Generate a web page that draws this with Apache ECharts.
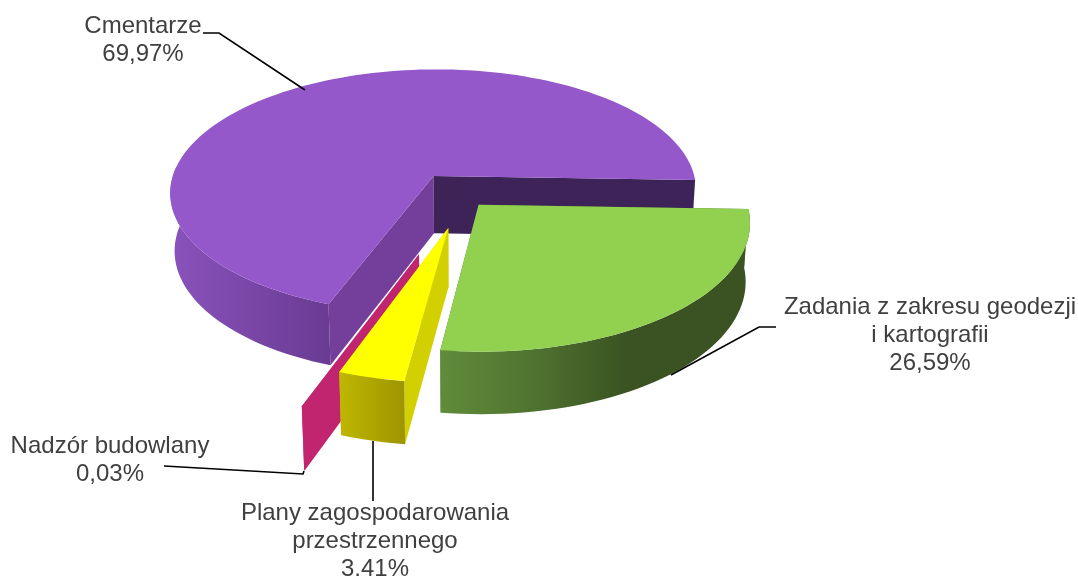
<!DOCTYPE html>
<html>
<head>
<meta charset="utf-8">
<script src="https://cdn.jsdelivr.net/npm/echarts@6/dist/echarts.min.js"></script>
<style>
html, body { margin: 0; background: #fff; }
#main { width: 1078px; height: 576px; }
</style>
</head>
<body>
<div id="main"></div>
<script>
// dane z wykresu
var names = ["Cmentarze", "Zadania z zakresu geodezji\ni kartografii", "Plany zagospodarowania\nprzestrzennego", "Nadzór budowlany"];
var values = [69.97, 26.59, 3.41, 0.03];

// wyglad wycinkow
var explode = [50, 27, 69, 125];
var explodeTurn = [0, 0, 3.5, 1.5];
var layers = [0, 1, 3, 2];
var topColors = ["#9558CB", "#92D050", "#FFFF00", "#C1256F"];
var wallStartColors = ["#733F9B", "#4D702F", "#D2D000", "#C1256F"];
var wallEndColors = ["#3D2358", "#4D702F", "#D2D000", "#C1256F"];
var sideStops = [
  [[0, "#8A52BC"], [1, "#693B92"]],
  [[0, "#608C3A"], [0.3, "#4F7330"], [0.6, "#3B5322"], [1, "#3B5322"]],
  [[0, "#BFB700"], [1, "#9E9400"]],
  [[0, "#C1256F"], [1, "#C1256F"]]
];

// opisy i linie odniesienia
var labelPos = [[143, 40], [930, 335], [375, 541], [110, 460]];
var leaders = [
  [[203, 33], [219, 33], [305, 90]],
  [[776, 327], [759, 327], [671, 375]],
  [[373, 441], [373, 501]],
  [[164, 466], [303, 474], [304, 471]]
];

var pie = { cx: 461, cy: 195, r: 266, k: 0.47, p: 0.13, h: 58, q: 0.015, start: 250 };

function project(x, y, depth) {
  var s = 1 / (1 - pie.p * y / pie.r);
  var d = depth ? 1 - pie.q : 1;
  return [pie.cx + x * s * d, pie.cy + pie.k * y * s + depth * Math.sqrt(s)];
}

function rimPoint(ox, oy, deg, depth) {
  var a = deg * Math.PI / 180;
  return project(ox + pie.r * Math.cos(a), oy - pie.r * Math.sin(a), depth);
}

function arcAngles(from, to) {
  var list = [from];
  for (var a = from - 2; a > to; a -= 2) {
    list.push(a);
  }
  list.push(to);
  return list;
}

// pierwszy ciagly kawalek luku od strony widza
function frontAngles(from, to) {
  var run = [];
  var list = arcAngles(from, to);
  for (var n = 0; n < list.length; n++) {
    if (Math.sin(list[n] * Math.PI / 180) < 0.1) {
      run.push(list[n]);
    } else if (run.length) {
      break;
    }
  }
  return run;
}

var total = values.reduce(function (a, b) { return a + b; }, 0);

function renderSlice(params, api) {
  var i = api.value(0);
  var before = 0;
  for (var n = 0; n < i; n++) {
    before += values[n];
  }
  var from = pie.start - before / total * 360;
  var to = from - values[i] / total * 360;
  var mid = ((from + to) / 2 + explodeTurn[i]) * Math.PI / 180;
  var ox = explode[i] * Math.cos(mid);
  var oy = -explode[i] * Math.sin(mid);
  var apexTop = project(ox, oy, 0);
  var apexBottom = project(ox, oy, pie.h);

  var topPts = [apexTop];
  arcAngles(from, to).forEach(function (a) {
    topPts.push(rimPoint(ox, oy, a, 0));
  });

  var upper = [];
  var lower = [];
  frontAngles(from, to).forEach(function (a) {
    upper.push(rimPoint(ox, oy, a, 0));
    lower.unshift(rimPoint(ox, oy, a, pie.h));
  });

  var base = layers[i] * 10;
  function poly(points, fill, z) {
    return {
      type: "polygon",
      z2: base + z,
      shape: { points: points },
      style: { fill: fill, stroke: null }
    };
  }
  var gradient = new echarts.graphic.LinearGradient(0, 0, 1, 0, sideStops[i].map(function (s) {
    return { offset: s[0], color: s[1] };
  }));
  return {
    type: "group",
    children: [
      poly([apexTop, rimPoint(ox, oy, from, 0), rimPoint(ox, oy, from, pie.h), apexBottom], wallStartColors[i], 0),
      poly([apexTop, rimPoint(ox, oy, to, 0), rimPoint(ox, oy, to, pie.h), apexBottom], wallEndColors[i], 1),
      poly(upper.concat(lower), gradient, 2),
      poly(topPts, topColors[i], 3)
    ]
  };
}

var graphic = [];
names.forEach(function (name, i) {
  graphic.push({
    type: "polyline",
    z: 5,
    shape: { points: leaders[i] },
    style: { stroke: "#000", lineWidth: 1.6, fill: null }
  });
  graphic.push({
    type: "text",
    z: 6,
    x: labelPos[i][0],
    y: labelPos[i][1],
    style: {
      text: name + "\n" + values[i].toFixed(2).replace(".", ",") + "%",
      font: '24px "Liberation Sans"',
      lineHeight: 28,
      fill: "#404040",
      align: "center",
      verticalAlign: "middle"
    }
  });
});

var chart = echarts.init(document.getElementById("main"));
chart.setOption({
  animation: false,
  backgroundColor: "#fff",
  graphic: graphic,
  series: [{
    type: "custom",
    coordinateSystem: "none",
    silent: true,
    renderItem: renderSlice,
    data: values.map(function (v, i) { return [i, v]; })
  }]
});
</script>
</body>
</html>
